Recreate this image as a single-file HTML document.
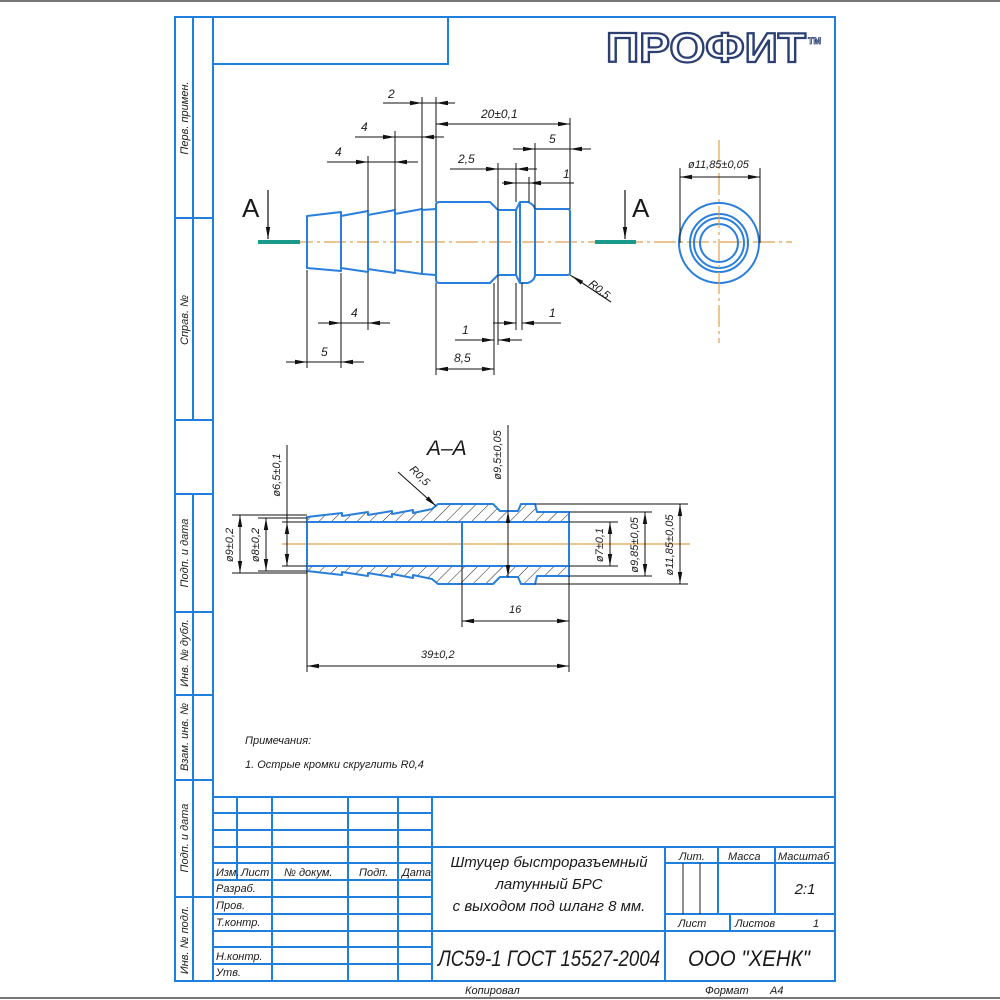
<!DOCTYPE html>
<html><head><meta charset="utf-8"><style>
html,body{margin:0;padding:0;background:#fff}
svg{display:block}
text{font-family:"Liberation Sans","DejaVu Sans",sans-serif;font-style:italic;fill:#1a1a1a}
</style></head><body>
<svg width="1000" height="1000" viewBox="0 0 1000 1000" xmlns="http://www.w3.org/2000/svg">
<defs>
<marker id="ar" markerUnits="userSpaceOnUse" markerWidth="12" markerHeight="6" refX="12" refY="3" orient="auto-start-reverse"><path d="M0,0.8 L12,3 L0,5.2z" fill="#111"/></marker>
<pattern id="h" patternUnits="userSpaceOnUse" width="9" height="9" patternTransform="rotate(45)"><line x1="0" y1="0" x2="0" y2="9" stroke="#222" stroke-width="1"/></pattern>
</defs>
<rect width="1000" height="1000" fill="#fff"/>
<line x1="0" y1="1" x2="1000" y2="1" stroke="#777" stroke-width="2"/>
<line x1="0" y1="998" x2="1000" y2="998" stroke="#777" stroke-width="2"/>

<!-- frame -->
<g stroke="#1e7fdc" stroke-width="2" fill="none">
<rect x="175" y="17" width="660" height="964"/>
<line x1="213" y1="17" x2="213" y2="981"/>
<line x1="193" y1="17" x2="193" y2="420"/>
<line x1="175" y1="218" x2="213" y2="218"/>
<line x1="175" y1="420" x2="213" y2="420"/>
<line x1="193" y1="494" x2="193" y2="981"/>
<line x1="175" y1="494" x2="213" y2="494"/>
<line x1="175" y1="612" x2="213" y2="612"/>
<line x1="175" y1="695" x2="213" y2="695"/>
<line x1="175" y1="780" x2="213" y2="780"/>
<line x1="175" y1="897" x2="213" y2="897"/>
<rect x="213" y="17" width="235" height="47"/>
<!-- title block -->
<line x1="213" y1="797" x2="835" y2="797"/>
<line x1="213" y1="813" x2="432" y2="813"/>
<line x1="213" y1="830" x2="432" y2="830"/>
<line x1="213" y1="847" x2="835" y2="847"/>
<line x1="213" y1="863" x2="432" y2="863"/>
<line x1="213" y1="880" x2="432" y2="880"/>
<line x1="213" y1="897" x2="432" y2="897"/>
<line x1="213" y1="914" x2="432" y2="914"/>
<line x1="213" y1="931" x2="835" y2="931"/>
<line x1="213" y1="947" x2="432" y2="947"/>
<line x1="213" y1="964" x2="432" y2="964"/>
<line x1="237" y1="797" x2="237" y2="880"/>
<line x1="272" y1="797" x2="272" y2="981"/>
<line x1="348" y1="797" x2="348" y2="981"/>
<line x1="398" y1="797" x2="398" y2="981"/>
<line x1="432" y1="797" x2="432" y2="981"/>
<line x1="665" y1="847" x2="665" y2="981"/>
<line x1="665" y1="863" x2="835" y2="863"/>
<line x1="665" y1="914" x2="835" y2="914"/>
<line x1="718" y1="847" x2="718" y2="914"/>
<line x1="775" y1="847" x2="775" y2="914"/>
<line x1="730" y1="914" x2="730" y2="931"/>
</g>
<g stroke="#222" stroke-width="1">
<line x1="683" y1="863" x2="683" y2="914"/>
<line x1="700" y1="863" x2="700" y2="914"/>
</g>

<!-- side labels -->
<g font-size="11">
<text transform="translate(188,118) rotate(-90)" text-anchor="middle">Перв. примен.</text>
<text transform="translate(188,320) rotate(-90)" text-anchor="middle">Справ. №</text>
<text transform="translate(188,553) rotate(-90)" text-anchor="middle">Подп. и дата</text>
<text transform="translate(188,653) rotate(-90)" text-anchor="middle">Инв. № дубл.</text>
<text transform="translate(188,737) rotate(-90)" text-anchor="middle">Взам. инв. №</text>
<text transform="translate(188,838) rotate(-90)" text-anchor="middle">Подп. и дата</text>
<text transform="translate(188,940) rotate(-90)" text-anchor="middle">Инв. № подл.</text>
</g>

<!-- logo -->
<text x="606" y="62" font-size="42" font-weight="bold" font-style="normal" textLength="200" lengthAdjust="spacingAndGlyphs" style="font-style:normal;fill:#fff;stroke:#2b3f73;stroke-width:2.2">ПРОФИТ</text>
<text x="808" y="44" font-size="9" style="font-style:normal;font-weight:bold;fill:#fff;stroke:#2b3f73;stroke-width:0.8">TM</text>

<!-- front view -->
<line x1="258" y1="242" x2="792" y2="242" stroke="#e0a050" stroke-width="1.2" stroke-dasharray="22,4,3,4"/>
<line x1="258" y1="242" x2="300" y2="242" stroke="#1a9a8a" stroke-width="4"/>
<line x1="595" y1="242" x2="636" y2="242" stroke="#1a9a8a" stroke-width="4"/>
<line x1="268" y1="190" x2="268" y2="239" stroke="#111" stroke-width="1.2" marker-end="url(#ar)"/>
<line x1="625" y1="190" x2="625" y2="239" stroke="#111" stroke-width="1.2" marker-end="url(#ar)"/>
<text x="242" y="217" font-size="26" style="font-style:normal">A</text>
<text x="632" y="217" font-size="26" style="font-style:normal">A</text>

<g stroke="#2a7fdc" stroke-width="2" fill="none" stroke-linejoin="round">
<path d="M307,216 L341,212 L341,271 L307,268 Z"/>
<path d="M341,216 L368,211 L368,272 L341,268"/>
<path d="M368,215 L395,210 L395,273 L368,269"/>
<path d="M395,214 L422,209 L422,274 L395,270"/>
<path d="M422,210 L436,209 L436,275 L422,274"/>
<path d="M436,205 Q436,202 440,202 L490,202 L498,210 L498,275 L490,283 L440,283 Q436,283 436,280 Z"/>
<path d="M498,210 L516,210 L516,275 L498,275"/>
<path d="M516,210 L520,202 L528,202 Q535,205 535,210 L535,275 Q535,280 528,283 L520,283 L516,275"/>
<line x1="520" y1="202" x2="520" y2="283"/>
<path d="M535,209 L568,209 Q570,209 570,212 L570,272 Q570,275 568,275 L535,275"/>
<circle cx="719" cy="243" r="40"/>
<circle cx="719" cy="243" r="29"/>
<circle cx="719" cy="243" r="25"/>
<circle cx="719" cy="243" r="19"/>
</g>
<line x1="719" y1="140" x2="719" y2="343" stroke="#e0a050" stroke-width="1.2" stroke-dasharray="22,4,3,4"/>

<g stroke="#111" stroke-width="1" fill="none">
<!-- extension lines -->
<line x1="422" y1="97" x2="422" y2="209"/>
<line x1="436" y1="97" x2="436" y2="202"/>
<line x1="570" y1="118" x2="570" y2="209"/>
<line x1="395" y1="131" x2="395" y2="210"/>
<line x1="368" y1="156" x2="368" y2="211"/>
<line x1="535" y1="143" x2="535" y2="209"/>
<line x1="498" y1="163" x2="498" y2="210"/>
<line x1="516" y1="163" x2="516" y2="202"/>
<line x1="529" y1="177" x2="529" y2="202"/>
<line x1="341" y1="273" x2="341" y2="368"/>
<line x1="368" y1="273" x2="368" y2="330"/>
<line x1="307" y1="270" x2="307" y2="368"/>
<line x1="494" y1="283" x2="494" y2="375"/>
<line x1="498" y1="275" x2="498" y2="345"/>
<line x1="516" y1="283" x2="516" y2="330"/>
<line x1="522" y1="283" x2="522" y2="330"/>
<line x1="436" y1="283" x2="436" y2="375"/>
<line x1="680" y1="168" x2="680" y2="243"/>
<line x1="760" y1="168" x2="760" y2="243"/>
<line x1="570" y1="275" x2="611" y2="302"/>
<!-- dims -->
<line x1="383" y1="103" x2="422" y2="103" marker-end="url(#ar)"/><line x1="455" y1="103" x2="436" y2="103" marker-end="url(#ar)"/><line x1="422" y1="103" x2="436" y2="103"/>
<line x1="436" y1="124" x2="570" y2="124" marker-start="url(#ar)" marker-end="url(#ar)"/>
<line x1="355" y1="137" x2="395" y2="137" marker-end="url(#ar)"/><line x1="444" y1="137" x2="422" y2="137" marker-end="url(#ar)"/><line x1="395" y1="137" x2="422" y2="137"/>
<line x1="327" y1="162" x2="368" y2="162" marker-end="url(#ar)"/><line x1="418" y1="162" x2="395" y2="162" marker-end="url(#ar)"/><line x1="368" y1="162" x2="395" y2="162"/>
<line x1="513" y1="149" x2="535" y2="149" marker-end="url(#ar)"/><line x1="591" y1="149" x2="570" y2="149" marker-end="url(#ar)"/><line x1="535" y1="149" x2="570" y2="149"/>
<line x1="450" y1="169" x2="498" y2="169" marker-end="url(#ar)"/><line x1="537" y1="169" x2="516" y2="169" marker-end="url(#ar)"/><line x1="498" y1="169" x2="516" y2="169"/>
<line x1="502" y1="183" x2="516" y2="183" marker-end="url(#ar)"/><line x1="574" y1="183" x2="529" y2="183" marker-end="url(#ar)"/><line x1="516" y1="183" x2="529" y2="183"/>
<line x1="318" y1="323" x2="341" y2="323" marker-end="url(#ar)"/><line x1="390" y1="323" x2="368" y2="323" marker-end="url(#ar)"/><line x1="341" y1="323" x2="368" y2="323"/>
<line x1="286" y1="362" x2="307" y2="362" marker-end="url(#ar)"/><line x1="364" y1="362" x2="341" y2="362" marker-end="url(#ar)"/><line x1="307" y1="362" x2="341" y2="362"/>
<line x1="455" y1="340" x2="494" y2="340" marker-end="url(#ar)"/><line x1="522" y1="340" x2="498" y2="340" marker-end="url(#ar)"/>
<line x1="493" y1="323" x2="516" y2="323" marker-end="url(#ar)"/><line x1="561" y1="323" x2="522" y2="323" marker-end="url(#ar)"/>
<line x1="436" y1="369" x2="494" y2="369" marker-start="url(#ar)" marker-end="url(#ar)"/>
<line x1="680" y1="177" x2="760" y2="177" marker-start="url(#ar)" marker-end="url(#ar)"/>
</g>
<line x1="611" y1="302" x2="572" y2="276" stroke="#111" stroke-width="1" marker-end="url(#ar)"/>
<g font-size="12">
<text x="388" y="98">2</text>
<text x="481" y="118">20±0,1</text>
<text x="361" y="131">4</text>
<text x="335" y="156">4</text>
<text x="549" y="143">5</text>
<text x="458" y="163">2,5</text>
<text x="563" y="178">1</text>
<text x="351" y="317">4</text>
<text x="321" y="356">5</text>
<text x="462" y="334">1</text>
<text x="549" y="317">1</text>
<text x="454" y="362">8,5</text>
<text x="688" y="168" font-size="11">ø11,85±0,05</text>
<text transform="translate(588,285) rotate(38)" font-size="11">R0,5</text>
</g>

<!-- section A-A -->
<text x="427" y="455" font-size="21" font-weight="bold" style="font-weight:normal">A–A</text>
<line x1="282" y1="544" x2="690" y2="544" stroke="#e0a050" stroke-width="1.2"/>
<g stroke="#2a7fdc" stroke-width="2" fill="url(#h)" stroke-linejoin="round">
<path d="M307,517 L342,513 L342,516 L368,512 L368,515 L392,511 L392,514 L413,510 L413,513 L432,509 L438,504 L493,504 L500,511 L518,511 L521,504 L535,504 L537,512 L569,512 L569,522 L307,522 Z"/>
<path d="M307,571 L342,575 L342,572 L368,576 L368,573 L392,577 L392,574 L413,578 L413,575 L432,579 L438,584 L493,584 L500,577 L518,577 L521,584 L535,584 L537,576 L569,576 L569,566 L307,566 Z"/>
</g>
<g stroke="#2a7fdc" stroke-width="2" fill="none">
<line x1="307" y1="517" x2="307" y2="571"/>
<line x1="569" y1="512" x2="569" y2="576"/>
<line x1="462" y1="522" x2="462" y2="566"/>
</g>
<g stroke="#111" stroke-width="1" fill="none">
<line x1="232" y1="515" x2="307" y2="515"/><line x1="232" y1="573" x2="307" y2="573"/>
<line x1="240" y1="515" x2="240" y2="573" marker-start="url(#ar)" marker-end="url(#ar)"/>
<line x1="258" y1="518" x2="307" y2="518"/><line x1="258" y1="571" x2="307" y2="571"/>
<line x1="266" y1="518" x2="266" y2="571" marker-start="url(#ar)" marker-end="url(#ar)"/>
<line x1="282" y1="522" x2="307" y2="522"/><line x1="282" y1="566" x2="307" y2="566"/>
<line x1="287" y1="445" x2="287" y2="566"/>
<line x1="287" y1="522" x2="287" y2="566" marker-start="url(#ar)" marker-end="url(#ar)"/>
<line x1="508" y1="425" x2="508" y2="577"/>
<line x1="508" y1="511" x2="508" y2="577" marker-start="url(#ar)" marker-end="url(#ar)"/>
<line x1="569" y1="522" x2="618" y2="522"/><line x1="569" y1="566" x2="618" y2="566"/>
<line x1="610" y1="522" x2="610" y2="566" marker-start="url(#ar)" marker-end="url(#ar)"/>
<line x1="569" y1="512" x2="652" y2="512"/><line x1="569" y1="576" x2="652" y2="576"/>
<line x1="645" y1="512" x2="645" y2="576" marker-start="url(#ar)" marker-end="url(#ar)"/>
<line x1="535" y1="504" x2="688" y2="504"/><line x1="535" y1="584" x2="688" y2="584"/>
<line x1="680" y1="504" x2="680" y2="584" marker-start="url(#ar)" marker-end="url(#ar)"/>
<line x1="462" y1="566" x2="462" y2="627"/><line x1="569" y1="576" x2="569" y2="672"/>
<line x1="307" y1="571" x2="307" y2="672"/>
<line x1="462" y1="621" x2="569" y2="621" marker-start="url(#ar)" marker-end="url(#ar)"/>
<line x1="307" y1="666" x2="569" y2="666" marker-start="url(#ar)" marker-end="url(#ar)"/>
<line x1="398" y1="472" x2="436" y2="506" marker-end="url(#ar)"/>
</g>
<g font-size="11">
<text transform="translate(233,545) rotate(-90)" text-anchor="middle">ø9±0,2</text>
<text transform="translate(259,545) rotate(-90)" text-anchor="middle">ø8±0,2</text>
<text transform="translate(280,475) rotate(-90)" text-anchor="middle">ø6,5±0,1</text>
<text transform="translate(501,455) rotate(-90)" text-anchor="middle">ø9,5±0,05</text>
<text transform="translate(603,545) rotate(-90)" text-anchor="middle">ø7±0,1</text>
<text transform="translate(638,545) rotate(-90)" text-anchor="middle">ø9,85±0,05</text>
<text transform="translate(673,545) rotate(-90)" text-anchor="middle">ø11,85±0,05</text>
<text transform="translate(409,470) rotate(45)">R0,5</text>
<text x="509" y="613">16</text>
<text x="421" y="658">39±0,2</text>
<text x="245" y="744">Примечания:</text>
<text x="245" y="768">1. Острые кромки скруглить R0,4</text>
</g>

<!-- title block text -->
<g font-size="11">
<text x="216" y="876">Изм.</text>
<text x="241" y="876">Лист</text>
<text x="284" y="876">№ докум.</text>
<text x="359" y="876">Подп.</text>
<text x="402" y="876">Дата</text>
<text x="216" y="892">Разраб.</text>
<text x="216" y="909">Пров.</text>
<text x="216" y="926">Т.контр.</text>
<text x="216" y="960">Н.контр.</text>
<text x="216" y="976">Утв.</text>
<text x="679" y="860">Лит.</text>
<text x="728" y="860">Масса</text>
<text x="778" y="860">Масштаб</text>
<text x="678" y="927">Лист</text>
<text x="735" y="927">Листов</text>
<text x="813" y="927">1</text>
<text x="465" y="994">Копировал</text>
<text x="705" y="994">Формат</text>
<text x="770" y="994">A4</text>
</g>
<g font-size="15" text-anchor="middle">
<text x="549" y="867">Штуцер быстроразъемный</text>
<text x="549" y="889">латунный БРС</text>
<text x="549" y="911">с выходом под шланг 8 мм.</text>
<text x="805" y="894">2:1</text>
</g>
<text x="438" y="966" font-size="22" textLength="222" lengthAdjust="spacingAndGlyphs">ЛС59-1 ГОСТ 15527-2004</text>
<text x="688" y="966" font-size="22" textLength="122" lengthAdjust="spacingAndGlyphs">ООО "ХЕНК"</text>
</svg>
</body></html>
